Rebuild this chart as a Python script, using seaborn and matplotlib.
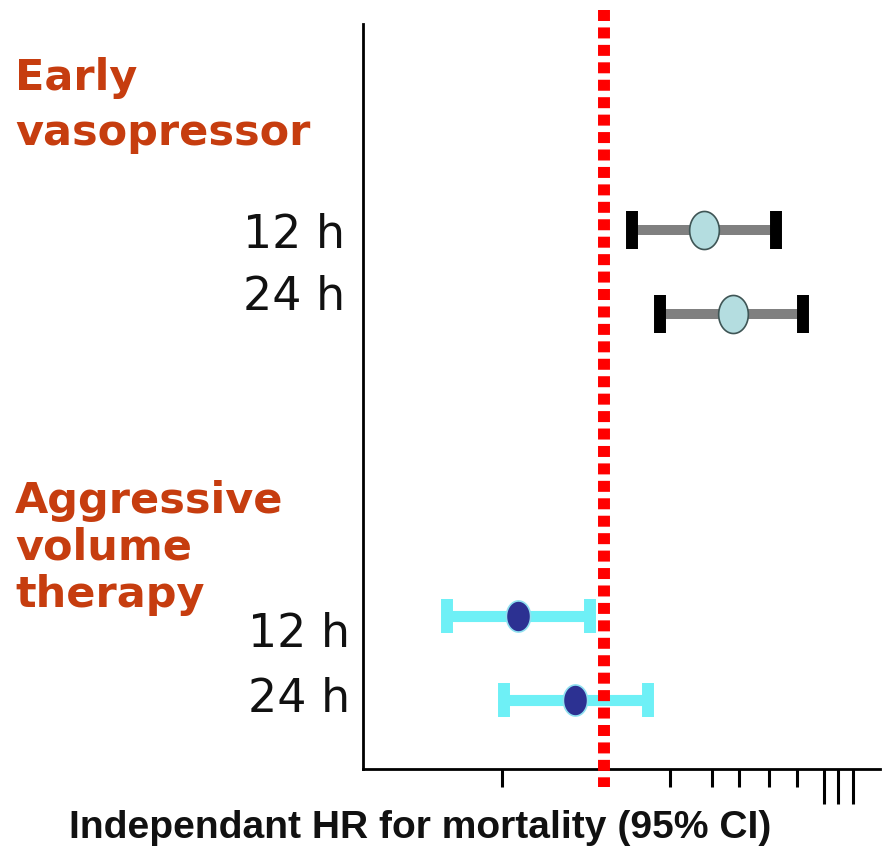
import numpy as np
import pandas as pd
import matplotlib
matplotlib.use("Agg")
import matplotlib.pyplot as plt
from matplotlib.path import Path
import seaborn as sns

# data
group_names = ["Early vasopressor", "Aggressive volume therapy"]
time_labels = ["12 h", "24 h", "12 h", "24 h"]
row_group = [0, 0, 1, 1]
hr = [1.50, 1.645, 0.57, 0.855]
ci_low = [1.14, 1.28, 0.215, 0.50]
ci_high = [1.86, 1.995, 0.93, 1.22]
row_pos = [0.0, 1.0, 4.6, 5.6]
ref_hr = 1.0
short_ticks = [0.49, 1.33, 1.54, 1.675, 1.825, 1.965]
long_ticks = [2.10, 2.17, 2.245]
x_label = "Independant HR for mortality (95% CI)"

df = pd.DataFrame({
    "group": [group_names[g] for g in row_group],
    "time": time_labels,
    "hr": hr,
    "lo": ci_low,
    "hi": ci_high,
    "y": row_pos,
})

sns.set_style("white")
plt.rcParams["font.family"] = ["DejaVu Sans"]

W, H = 882, 852
fig = plt.figure(figsize=(W / 100, H / 100), dpi=100)
ax = fig.add_axes([363 / W, 1 - 769 / H, 517 / W, 745 / H])


def py2y(py):
    # pixel row -> data y (row 0 sits at pixel 230, 84 px per unit)
    return (py - 230) / 84


# ellipse marker, a bit taller than wide
t = np.linspace(0, 2 * np.pi, 80)
ellipse = Path(np.column_stack([0.39 * np.cos(t), 0.5 * np.sin(t)]), closed=True)

styles = {
    group_names[0]: dict(ecolor="#808080", elw=7.2, capsize=13.7, capcolor="black",
                         face="#B4DDE0", edge="#3F5555", s=750),
    group_names[1]: dict(ecolor="#6EF0F6", elw=8.0, capsize=12.0, capcolor="#6EF0F6",
                         face="#2C3192", edge="#8FE0F0", s=500),
}

for name, sub in df.groupby("group", sort=False):
    st = styles[name]
    eb = ax.errorbar(sub["hr"], sub["y"],
                     xerr=[sub["hr"] - sub["lo"], sub["hi"] - sub["hr"]],
                     fmt="none", ecolor=st["ecolor"], elinewidth=st["elw"],
                     capsize=st["capsize"], capthick=8.6, zorder=2)
    for cap in eb.lines[1]:
        cap.set_color(st["capcolor"])
        cap.set_markeredgecolor(st["capcolor"])
    sns.scatterplot(data=sub, x="hr", y="y", marker=ellipse, s=st["s"],
                    color=st["face"], edgecolor=st["edge"], linewidth=1.2,
                    zorder=3, legend=False, ax=ax)

# reference line at HR = 1, runs a little past the axes
ax.plot([ref_hr, ref_hr], [py2y(10), py2y(787)], color="#FF0000", lw=8.6,
        ls=(0, (0.92, 0.54)), dash_capstyle="butt", clip_on=False, zorder=4)

ax.set_xlim(-0.205, 2.38)
ax.set_ylim(py2y(769), py2y(24))
ax.set_xticks(short_ticks)
ax.set_xticks(long_ticks, minor=True)
ax.tick_params(axis="x", which="major", length=13, width=2.2, direction="out",
               color="black", labelbottom=False, bottom=True)
ax.tick_params(axis="x", which="minor", length=25, width=2.2, direction="out",
               color="black", bottom=True)
ax.set_yticks([])
ax.set_xlabel("")
ax.set_ylabel("")
sns.despine(ax=ax)
for side in ["left", "bottom"]:
    ax.spines[side].set_linewidth(2)
    ax.spines[side].set_color("black")

# group headings, one text per line at its baseline
heading_lines = [("Early", 90), ("vasopressor", 145),
                 ("Aggressive", 513), ("volume", 560), ("therapy", 607)]
for txt, base in heading_lines:
    fig.text(15 / W, 1 - base / H, txt, color="#C63D0F", fontsize=31,
             fontweight="bold", ha="left", va="baseline")

hour_xy = [(345, 248), (345, 310), (350, 647), (350, 712)]
for lab, (px, base) in zip(df["time"], hour_xy):
    fig.text(px / W, 1 - base / H, lab, color="#111111", fontsize=33,
             ha="right", va="baseline")

fig.text(420 / W, 1 - 838 / H, x_label, fontsize=28.1, fontweight="bold",
         family=["Liberation Sans", "DejaVu Sans"], ha="center", va="baseline",
         color="#111111")

fig.savefig("out.png", dpi=100)
